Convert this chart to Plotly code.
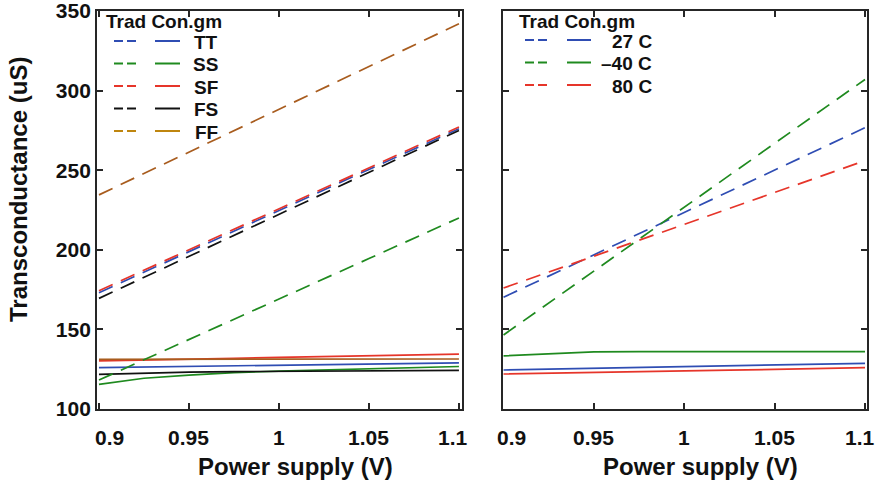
import plotly.graph_objects as go

# ---------------- data ----------------
vdd = [0.9, 0.95, 1.0, 1.05, 1.1]
vdd_fine = [0.9, 0.925, 0.95, 0.975, 1.0, 1.025, 1.05, 1.075, 1.1]

corner_names = ["TT", "SS", "SF", "FS", "FF"]
corner_colors = ["#2f4db3", "#1f8a1f", "#e6352a", "#111111", "#a85c1e"]
corner_legend_colors = ["#2f4db3", "#1f8a1f", "#e6352a", "#111111", "#bf860f"]

# dashed (traditional) curves, process corners
trad_tt = [173.0, 199.0, 224.5, 250.5, 276.0]
trad_ss = [118.2, 143.5, 169.0, 194.5, 220.0]
trad_sf = [174.3, 200.0, 225.8, 251.5, 277.2]
trad_fs = [169.5, 196.0, 222.3, 248.7, 275.0]
trad_ff = [234.5, 261.5, 288.0, 315.0, 342.0]

# solid curves, process corners
prop_tt = [126.0, 126.4, 126.8, 127.2, 127.6, 128.0, 128.4, 128.7, 129.0]
prop_ss = [115.5, 119.3, 121.3, 122.8, 123.8, 124.6, 125.4, 126.1, 126.7]
prop_sf = [130.2, 130.6, 131.2, 131.8, 132.4, 133.0, 133.6, 134.1, 134.5]
prop_fs = [121.8, 122.6, 123.2, 123.5, 123.7, 123.9, 124.0, 124.1, 124.2]
prop_ff = [131.2, 131.2, 131.2, 131.3, 131.3, 131.3, 131.4, 131.4, 131.4]

temp_names = ["27 C", "\u201340 C", "80 C"]
temp_colors = ["#2f4db3", "#1f8a1f", "#e6352a"]

# dashed (traditional) curves, temperatures
trad_27 = [170.2, 196.8, 223.4, 250.0, 276.7]
trad_m40 = [146.5, 186.6, 226.8, 266.9, 307.0]
trad_80 = [176.0, 196.0, 216.0, 236.0, 256.0]

# solid curves, temperatures
prop_27 = [124.5, 125.0, 125.6, 126.1, 126.6, 127.1, 127.6, 128.2, 128.7]
prop_m40 = [133.4, 134.8, 135.9, 136.0, 136.0, 136.0, 136.0, 136.0, 136.0]
prop_80 = [122.0, 122.4, 122.9, 123.4, 123.9, 124.4, 124.9, 125.4, 126.0]

x_ticks = [0.9, 0.95, 1.0, 1.05, 1.1]
x_tick_text = ["0.9", "0.95", "1", "1.05", "1.1"]
y_ticks = [100, 150, 200, 250, 300, 350]

legend_title = "Trad Con.gm"
x_title = "Power supply (V)"
y_title = "Transconductance (uS)"

# ---------------- figure ----------------
W, H = 885, 482
FONT = "Liberation Sans, Arial, sans-serif"
AX = "#262626"
DASH = "15px,9px"

fig = go.Figure()

trad_corners = [trad_tt, trad_ss, trad_sf, trad_fs, trad_ff]
prop_corners = [prop_tt, prop_ss, prop_sf, prop_fs, prop_ff]
for name, col, yv in zip(corner_names, corner_colors, prop_corners):
    fig.add_trace(go.Scatter(x=vdd_fine, y=yv, mode="lines", name=name,
                             line=dict(color=col, width=1.7), xaxis="x", yaxis="y",
                             showlegend=False))
for name, col, yv in zip(corner_names, corner_colors, trad_corners):
    fig.add_trace(go.Scatter(x=vdd, y=yv, mode="lines", name=name,
                             line=dict(color=col, width=1.7, dash=DASH), xaxis="x", yaxis="y",
                             showlegend=False))

trad_temps = [trad_27, trad_m40, trad_80]
prop_temps = [prop_27, prop_m40, prop_80]
for name, col, yv in zip(temp_names, temp_colors, prop_temps):
    fig.add_trace(go.Scatter(x=vdd_fine, y=yv, mode="lines", name=name,
                             line=dict(color=col, width=1.7), xaxis="x2", yaxis="y2",
                             showlegend=False))
for name, col, yv in zip(temp_names, temp_colors, trad_temps):
    fig.add_trace(go.Scatter(x=vdd, y=yv, mode="lines", name=name,
                             line=dict(color=col, width=1.7, dash=DASH), xaxis="x2", yaxis="y2",
                             showlegend=False))

def px(v):
    return v / W

def py(v):
    return 1 - v / H

common_axis = dict(showline=True, linecolor=AX, linewidth=1.8, mirror="ticks",
                   ticks="inside", ticklen=6, tickwidth=1.5, tickcolor=AX,
                   showgrid=False, zeroline=False, automargin=False)

fig.update_layout(
    width=W, height=H,
    margin=dict(l=0, r=0, t=0, b=0),
    paper_bgcolor="white", plot_bgcolor="white",
    showlegend=False,
    xaxis=dict(domain=[px(97), px(462)], range=[0.8989, 1.1017],
               tickvals=x_ticks, showticklabels=False, **common_axis),
    yaxis=dict(domain=[py(409), py(11)], range=[100, 350], tickvals=y_ticks,
               tickfont=dict(family=FONT, size=21, color="#111111", weight="bold"),
               ticklabeloverflow="allow", **common_axis),
    xaxis2=dict(domain=[px(503), px(867)], range=[0.8997, 1.1011],
                tickvals=x_ticks, showticklabels=False, anchor="y2", **common_axis),
    yaxis2=dict(domain=[py(409), py(11)], range=[100, 350], tickvals=y_ticks,
                showticklabels=False, anchor="x2", matches="y", **common_axis),
)

ann = []
# x tick labels
shift_left = [11, 0, 0, 0, -6]
shift_right = [8, 0, 0, 0, -5]
for xv, txt, s1, s2 in zip(x_ticks, x_tick_text, shift_left, shift_right):
    ann.append(dict(x=xv, xref="x", y=py(437), yref="paper", text=txt, showarrow=False,
                    xshift=s1, font=dict(family=FONT, size=21, color="#111111", weight="bold"),
                    xanchor="center", yanchor="middle"))
    ann.append(dict(x=xv, xref="x2", y=py(437), yref="paper", text=txt, showarrow=False,
                    xshift=s2, font=dict(family=FONT, size=21, color="#111111", weight="bold"),
                    xanchor="center", yanchor="middle"))

# axis titles
title_font = dict(family=FONT, size=24, color="#111111", weight="bold")
ann.append(dict(x=px(295), y=py(466), xref="paper", yref="paper", text=x_title,
                showarrow=False, font=title_font, xanchor="center", yanchor="middle"))
ann.append(dict(x=px(700), y=py(466), xref="paper", yref="paper", text=x_title,
                showarrow=False, font=title_font, xanchor="center", yanchor="middle"))
ann.append(dict(x=px(19), y=py(190), xref="paper", yref="paper", text=y_title,
                textangle=-90, showarrow=False, font=title_font,
                xanchor="center", yanchor="middle"))

# custom legends
leg_font = dict(family=FONT, size=19, color="#111111", weight="bold")
shapes = []

def add_legend(x_title_left, y_title_c, entry_y, names, colors, dash_x, solid_x, text_right):
    ann.append(dict(x=px(x_title_left), y=py(y_title_c), xref="paper", yref="paper",
                    text=legend_title, showarrow=False, font=leg_font,
                    xanchor="left", yanchor="middle"))
    for yy, nm, col in zip(entry_y, names, colors):
        shapes.append(dict(type="line", xref="paper", yref="paper",
                           x0=px(dash_x[0]), x1=px(dash_x[1]), y0=py(yy), y1=py(yy),
                           line=dict(color=col, width=2, dash="9px,4px")))
        shapes.append(dict(type="line", xref="paper", yref="paper",
                           x0=px(solid_x[0]), x1=px(solid_x[1]), y0=py(yy), y1=py(yy),
                           line=dict(color=col, width=2)))
        ann.append(dict(x=px(text_right), y=py(yy + 1.5), xref="paper", yref="paper",
                        text=nm, showarrow=False, font=leg_font,
                        xanchor="right", yanchor="middle"))

add_legend(104, 21.5, [41, 63.5, 86, 108.5, 131], corner_names, corner_legend_colors,
           (114, 136), (155, 180), 220)
add_legend(517, 21.5, [40, 62.5, 85], temp_names, temp_colors,
           (525, 547), (567, 591), 654)

fig.update_layout(annotations=ann, shapes=shapes)

fig.write_html("out.html")
